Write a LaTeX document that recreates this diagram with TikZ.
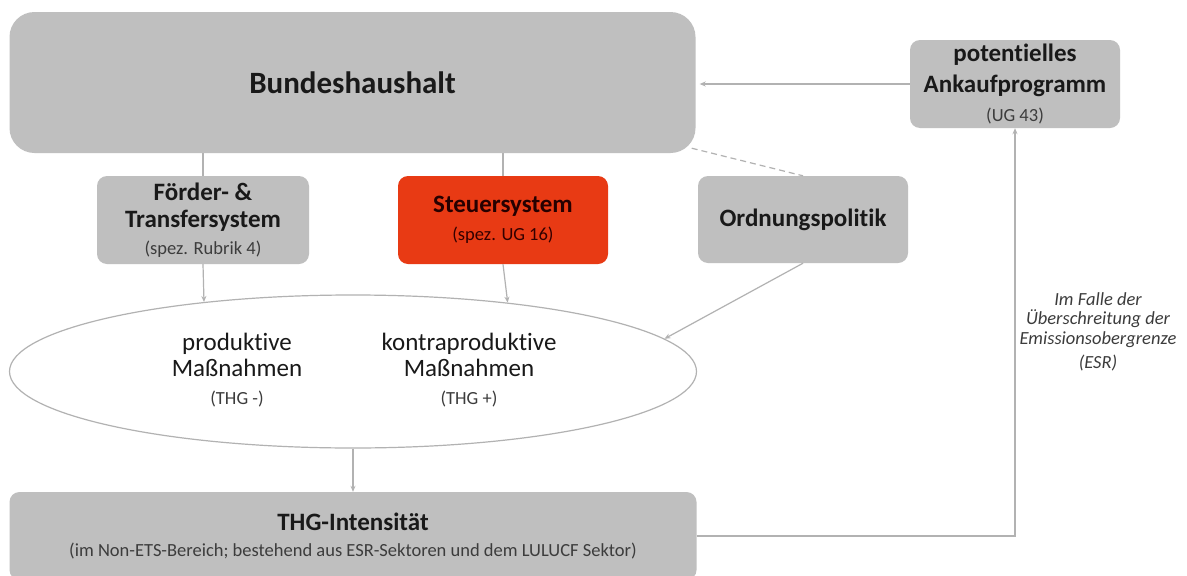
\documentclass[tikz,border=0pt]{standalone}
\usepackage{fontspec}
\setmainfont{Carlito}[RawFeature=-liga]
\usetikzlibrary{shapes.geometric,arrows.meta,calc}
\definecolor{boxgray}{RGB}{191,191,191}
\definecolor{linegray}{RGB}{178,178,178}
\definecolor{redbox}{RGB}{232,58,20}
\definecolor{txtdark}{RGB}{25,25,25}
\definecolor{txtsub}{RGB}{60,60,60}
\tikzset{
  gbox/.style={fill=boxgray, draw=none, rounded corners=10pt, inner sep=0pt, align=center, text=txtdark},
  rbox/.style={gbox, fill=redbox, text=black!85!red},
  conn/.style={draw=linegray, line width=1.2pt},
  arr/.style={conn, -{Stealth[length=6pt,width=5pt]}},
  dashconn/.style={conn, dashed, dash pattern=on 6pt off 4pt},
  ttl/.style={font=\fontsize{25}{27}\selectfont\bfseries},
}
\newcommand{\subtx}[1]{{\fontsize{18.5}{20}\selectfont\mdseries\color{txtsub}#1}}
\begin{document}
\begin{tikzpicture}[x=1pt,y=-1pt]
\clip (0,0) rectangle (1187,576);
\fill[white] (0,0) rectangle (1187,576);
% nodes
\node[gbox, rounded corners=25pt, minimum width=686pt, minimum height=141pt,
      font=\fontsize{31}{36}\selectfont\bfseries] (bund) at (352.5,82.5) {Bundeshaushalt};
\node[gbox, minimum width=212pt, minimum height=88pt, ttl] (foerder) at (203,220)
  {Förder- \&\\Transfersystem\\\subtx{(spez. Rubrik 4)}};
\node[rbox, minimum width=210pt, minimum height=88pt, ttl] (steuer) at (503,220)
  {Steuersystem\\[1pt]\subtx{\color{black!80!red}(spez. UG 16)}};
\node[gbox, minimum width=210pt, minimum height=87pt, ttl] (ordnung) at (803,219.5)
  {Ordnungspolitik};
\node[gbox, minimum width=210pt, minimum height=88pt, font=\fontsize{25}{31}\selectfont\bfseries] (ankauf) at (1015,84)
  {potentielles\\Ankaufprogramm\\[-2pt]\subtx{(UG 43)}};
\node[ellipse, draw=linegray, line width=1.2pt, fill=white, minimum width=687pt, minimum height=153pt, inner sep=0pt] (ell) at (353,371.5) {};
\node[align=center, font=\fontsize{25}{26}\selectfont, text=txtdark] (prod) at (237,370)
  {produktive\\Maßnahmen\\[2pt]\subtx{(THG -)}};
\node[align=center, font=\fontsize{25}{26}\selectfont, text=txtdark] (kontra) at (469,370)
  {kontraproduktive\\Maßnahmen\\[2pt]\subtx{(THG +)}};
\node[gbox, minimum width=687pt, minimum height=88pt, font=\fontsize{25}{27}\selectfont\bfseries] (thg) at (353,536)
  {THG-Intensität\\[-1pt]{\fontsize{18.5}{20}\selectfont\mdseries\color{txtsub}(im Non-ETS-Bereich; bestehend aus ESR-Sektoren und dem LULUCF Sektor)}};
\node[align=center, font=\fontsize{18.5}{19.5}\selectfont\itshape, text=txtsub] (lbl) at (1098,332)
  {Im Falle der\\Überschreitung der\\Emissionsobergrenze\\[5pt](ESR)};
% connectors
\draw[conn] (bund.south -| foerder.north) -- (foerder.north);
\draw[conn] (bund.south -| steuer.north) -- (steuer.north);
\draw[arr] (foerder.south) -- (ell.155.2);
\draw[arr] (steuer.south) -- (ell.24.7);
\draw[arr] (ordnung.south) -- (ell.6.7);
\draw[arr, shorten >=4pt] (ankauf.west) -- (bund.east |- ankauf.west);
\draw[dashconn] ($(bund.south east)+(-4,-5)$) -- (ordnung.north);
\draw[arr] (ell.south) -- (thg.north);
\draw[arr] (thg.east) -| (ankauf.south);
\end{tikzpicture}
\end{document}
